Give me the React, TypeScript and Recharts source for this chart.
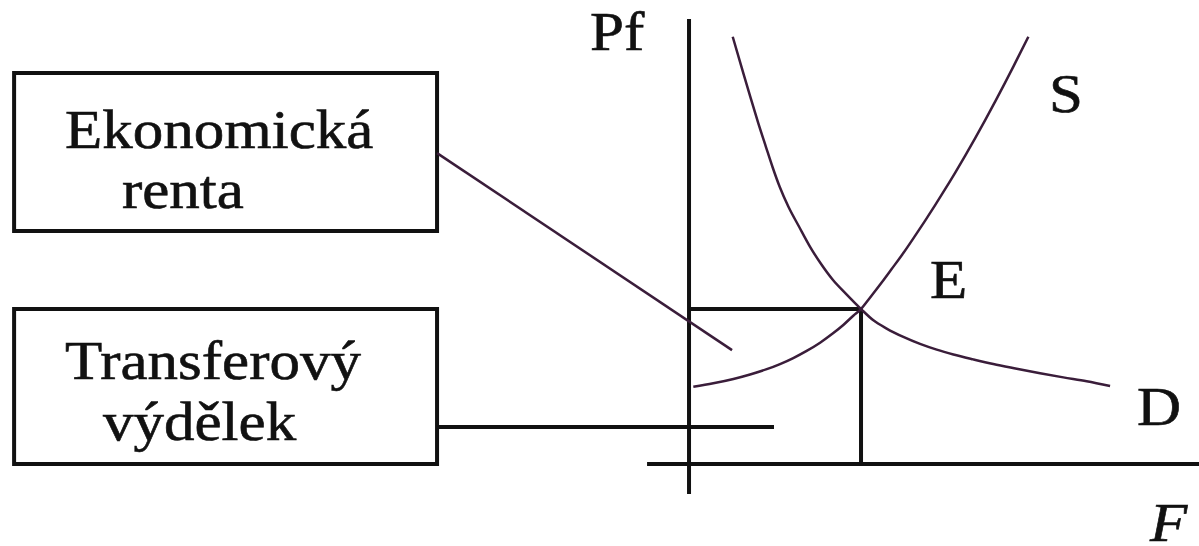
import { ComposedChart, Line, XAxis, YAxis, ReferenceLine, ReferenceArea, ReferenceDot } from 'recharts'

// supply curve S (F, Pf)
const sF = [0.25, 1.41, 2.58, 3.55, 4.52, 5.29, 6.06, 6.84, 7.62, 8.39, 8.97, 9.55, 10, 10.52, 11.2, 11.78, 12.46, 13.14, 13.72, 14.3, 14.88, 15.47, 16.05, 16.63, 17.21, 17.79, 18.37, 18.95, 19.73]
const sPf = [4.99, 5.21, 5.49, 5.78, 6.12, 6.45, 6.84, 7.3, 7.83, 8.45, 8.97, 9.57, 10, 10.73, 11.71, 12.58, 13.61, 14.72, 15.69, 16.69, 17.72, 18.79, 19.88, 21.01, 22.17, 23.37, 24.59, 25.85, 27.57]

// demand curve D (F, Pf)
const dF = [2.54, 3.05, 3.56, 4.03, 4.47, 4.85, 5.27, 5.78, 6.4, 7.03, 7.65, 8.37, 9.1, 10, 10.72, 11.49, 12.46, 13.43, 14.4, 15.37, 16.53, 17.69, 19.05, 20.41, 21.76, 23.12, 24.48]
const dPf = [27.57, 25.63, 23.7, 21.98, 20.47, 19.18, 17.89, 16.6, 15.31, 14.03, 12.95, 11.87, 11.01, 10, 9.27, 8.74, 8.2, 7.75, 7.38, 7.07, 6.75, 6.45, 6.15, 5.86, 5.59, 5.34, 5.03]

// equilibrium point E
const eqF = 10
const eqPf = 10

// text labels
const labelText = ['Pf', 'S', 'E', 'D', 'F', 'Ekonomická', 'renta', 'Transferový', 'výdělek']
const labelF = [-5.76, 20.93, 14.01, 26.05, 26.8, -36.28, -32.97, -36.28, -34.07]
const labelPf = [26.71, 22.71, 10.71, 2.52, -4.96, 20.39, 16.52, 5.48, 1.55]
const labelItalic = [false, false, false, false, true, false, false, false, false]

// boxes (left / right F, top / bottom Pf)
const boxF1 = -39.24
const boxF2 = -14.65
const boxTop = [25.23, 10]
const boxBottom = [15.03, 0]

const sData = sF.map((f, i) => ({ f, pf: sPf[i] }))
const dData = dF.map((f, i) => ({ f, pf: dPf[i] }))

const INK = '#111'
const CURVE = '#3a1d3a'

export default function App() {
  return (
    <div style={{ position: 'absolute', left: 0, top: 0, background: '#fff' }}>
      <ComposedChart width={1199} height={546} margin={{ top: 0, right: 0, bottom: 0, left: 0 }}>
        <XAxis type="number" dataKey="f" domain={[-40.06, 29.65]} allowDataOverflow hide />
        <YAxis type="number" dataKey="pf" domain={[-5.29, 29.94]} allowDataOverflow hide />

        {boxTop.map((top, i) => (
          <ReferenceArea
            key={'box' + i}
            x1={boxF1}
            x2={boxF2}
            y1={boxBottom[i]}
            y2={top}
            fill="none"
            fillOpacity={0}
            stroke={INK}
            strokeWidth={4}
            ifOverflow="visible"
          />
        ))}

        {/* axes */}
        <ReferenceLine segment={[{ x: 0, y: -1.94 }, { x: 0, y: 28.71 }]} stroke={INK} strokeWidth={4} ifOverflow="visible" />
        <ReferenceLine segment={[{ x: -2.44, y: 0 }, { x: 29.65, y: 0 }]} stroke={INK} strokeWidth={4} ifOverflow="visible" />

        {/* equilibrium guides */}
        <ReferenceLine segment={[{ x: 0, y: eqPf }, { x: eqF, y: eqPf }]} stroke={INK} strokeWidth={4} />
        <ReferenceLine segment={[{ x: eqF, y: eqPf }, { x: eqF, y: 0 }]} stroke={INK} strokeWidth={4} />

        {/* pointers from the boxes */}
        <ReferenceLine segment={[{ x: boxF2, y: 20.06 }, { x: 2.5, y: 7.35 }]} stroke={CURVE} strokeWidth={2.5} ifOverflow="visible" />
        <ReferenceLine segment={[{ x: boxF2, y: 2.39 }, { x: 4.94, y: 2.39 }]} stroke={INK} strokeWidth={4} ifOverflow="visible" />

        <Line data={sData} dataKey="pf" type="monotone" stroke={CURVE} strokeWidth={2.5} dot={false} activeDot={false} isAnimationActive={false} />
        <Line data={dData} dataKey="pf" type="monotone" stroke={CURVE} strokeWidth={2.5} dot={false} activeDot={false} isAnimationActive={false} />

        {labelText.map((t, i) => (
          <ReferenceDot
            key={'lbl' + i}
            x={labelF[i]}
            y={labelPf[i]}
            r={0}
            ifOverflow="visible"
            shape={(p: any) => (
              <text
                transform={`translate(${p.cx},${p.cy}) scale(1.13,1)`}
                x={0}
                y={0}
                fill={INK}
                stroke={INK}
                strokeWidth={0.6}
                fontFamily="'Liberation Serif', 'Times New Roman', serif"
                fontSize={54}
                fontStyle={labelItalic[i] ? 'italic' : 'normal'}
              >
                {t}
              </text>
            )}
          />
        ))}
      </ComposedChart>
    </div>
  )
}
